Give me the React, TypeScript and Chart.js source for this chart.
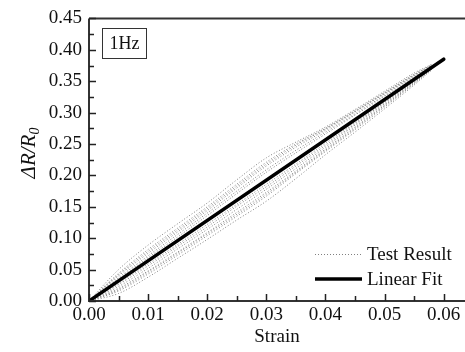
import React, { useEffect, useRef } from "react";
import { Chart, registerables } from "chart.js";

Chart.register(...registerables);

// ---- data ----
const STRAIN = [0, 0.005, 0.01, 0.015, 0.02, 0.025, 0.03, 0.035, 0.04, 0.045, 0.05, 0.055, 0.058];

const TEST_U1 = [0, 0.05, 0.089, 0.123, 0.156, 0.193, 0.228, 0.253, 0.277, 0.305, 0.334, 0.363, 0.377];
const TEST_U2 = [0, 0.044, 0.082, 0.116, 0.15, 0.186, 0.221, 0.25, 0.275, 0.303, 0.332, 0.361, 0.376];
const TEST_U6 = [0, 0.042, 0.079, 0.113, 0.147, 0.183, 0.218, 0.248, 0.274, 0.302, 0.331, 0.36, 0.376];
const TEST_U3 = [0, 0.04, 0.076, 0.11, 0.144, 0.18, 0.215, 0.245, 0.272, 0.301, 0.33, 0.359, 0.375];
const TEST_U4 = [0, 0.037, 0.072, 0.106, 0.14, 0.175, 0.209, 0.24, 0.269, 0.298, 0.328, 0.358, 0.374];
const TEST_U5 = [0, 0.035, 0.069, 0.102, 0.136, 0.171, 0.205, 0.236, 0.266, 0.296, 0.326, 0.356, 0.373];
const TEST_L1 = [0, 0.012, 0.038, 0.068, 0.098, 0.129, 0.159, 0.195, 0.233, 0.269, 0.306, 0.344, 0.368];
const TEST_L2 = [0, 0.016, 0.043, 0.073, 0.104, 0.135, 0.167, 0.203, 0.238, 0.273, 0.309, 0.346, 0.369];
const TEST_L7 = [0, 0.018, 0.046, 0.076, 0.107, 0.138, 0.17, 0.205, 0.24, 0.275, 0.311, 0.347, 0.37];
const TEST_L3 = [0, 0.02, 0.048, 0.078, 0.109, 0.141, 0.173, 0.207, 0.242, 0.277, 0.312, 0.348, 0.37];
const TEST_L4 = [0, 0.023, 0.052, 0.083, 0.114, 0.146, 0.178, 0.211, 0.245, 0.28, 0.314, 0.349, 0.371];
const TEST_L5 = [0, 0.026, 0.056, 0.087, 0.118, 0.151, 0.182, 0.215, 0.248, 0.282, 0.316, 0.35, 0.371];
const TEST_L6 = [0, 0.028, 0.059, 0.09, 0.122, 0.154, 0.186, 0.218, 0.251, 0.284, 0.317, 0.351, 0.372];

const TEST_CURVES = [
  TEST_U1, TEST_U2, TEST_U6, TEST_U3, TEST_U4, TEST_U5,
  TEST_L1, TEST_L2, TEST_L7, TEST_L3, TEST_L4, TEST_L5, TEST_L6,
];

const FIT_X = [0, 0.06];
const FIT_Y = [0, 0.385];

const LEGEND_LABELS = ["Test Result", "Linear Fit"];
const FREQ_LABEL = "1Hz";
const X_TITLE = "Strain";

const FONT = "'Liberation Serif', 'Times New Roman', serif";

const isMajor = (v: number, step: number) => Math.abs(v / step - Math.round(v / step)) < 1e-6;

const decorPlugin = {
  id: "decor",
  afterDraw(chart: any) {
    const ctx = chart.ctx;
    const { left, right, top, bottom } = chart.chartArea;
    const xs = chart.scales.x;
    const ys = chart.scales.y;
    ctx.save();
    // frame
    ctx.strokeStyle = "#333";
    ctx.lineWidth = 2;
    ctx.beginPath();
    ctx.moveTo(left, top);
    ctx.lineTo(right, top);
    ctx.moveTo(left, top);
    ctx.lineTo(left, bottom);
    ctx.lineTo(right, bottom);
    ctx.stroke();
    // ticks (inward)
    ctx.lineWidth = 1.5;
    ctx.strokeStyle = "#222";
    ctx.beginPath();
    xs.ticks.forEach((t: any) => {
      const px = Math.round(xs.getPixelForValue(t.value)) + 0.5;
      const len = isMajor(t.value, 0.01) ? 7 : 5;
      ctx.moveTo(px, bottom);
      ctx.lineTo(px, bottom - len);
    });
    ys.ticks.forEach((t: any) => {
      const py = Math.round(ys.getPixelForValue(t.value)) + 0.5;
      const len = isMajor(t.value, 0.05) ? 7 : 5;
      ctx.moveTo(left, py);
      ctx.lineTo(left + len, py);
    });
    ctx.stroke();

    // y title
    ctx.fillStyle = "#111";
    ctx.save();
    ctx.translate(29, 153);
    ctx.rotate(-Math.PI / 2);
    ctx.font = `italic 21px ${FONT}`;
    const main = "\u0394R/R";
    const w1 = ctx.measureText(main).width;
    ctx.font = `italic 14px ${FONT}`;
    const w2 = ctx.measureText("0").width;
    const sx = -(w1 + w2) / 2;
    ctx.textBaseline = "alphabetic";
    ctx.font = `italic 21px ${FONT}`;
    ctx.fillText(main, sx, 6);
    ctx.font = `italic 14px ${FONT}`;
    ctx.fillText("0", sx + w1, 10);
    ctx.restore();

    // 1Hz box
    ctx.strokeStyle = "#333";
    ctx.lineWidth = 1;
    ctx.strokeRect(102.5, 28.5, 44, 30);
    ctx.font = `18px ${FONT}`;
    ctx.textAlign = "center";
    ctx.textBaseline = "middle";
    ctx.fillText(FREQ_LABEL, 124.5, 44);

    // legend
    ctx.textAlign = "left";
    ctx.font = `19px ${FONT}`;
    ctx.strokeStyle = "#808080";
    ctx.lineWidth = 1;
    ctx.setLineDash([1, 2]);
    ctx.beginPath();
    ctx.moveTo(315, 254.5);
    ctx.lineTo(362, 254.5);
    ctx.stroke();
    ctx.setLineDash([]);
    ctx.strokeStyle = "#000";
    ctx.lineWidth = 3.5;
    ctx.beginPath();
    ctx.moveTo(315, 279);
    ctx.lineTo(362, 279);
    ctx.stroke();
    ctx.fillText(LEGEND_LABELS[0], 367, 255);
    ctx.fillText(LEGEND_LABELS[1], 367, 280);
    ctx.restore();
  },
};

export default function App() {
  const ref = useRef<HTMLCanvasElement>(null);
  useEffect(() => {
    document.body.style.margin = "0";
    const datasets: any[] = [
      {
        label: LEGEND_LABELS[1],
        data: FIT_X.map((x, i) => ({ x, y: FIT_Y[i] })),
        borderColor: "#000",
        borderWidth: 3.5,
        pointRadius: 0,
        borderCapStyle: "round",
      },
      ...TEST_CURVES.map((arr, k) => ({
        label: LEGEND_LABELS[0] + k,
        data: STRAIN.map((x, i) => ({ x, y: arr[i] })),
        borderColor: "#808080",
        borderWidth: 1,
        borderDash: [1, 2],
        pointRadius: 0,
        cubicInterpolationMode: "monotone",
      })),
    ];
    const chart = new Chart(ref.current!, {
      type: "line",
      data: { datasets },
      options: {
        animation: false,
        responsive: false,
        layout: { padding: { top: 17, right: 0, left: 0, bottom: 0 } },
        plugins: { legend: { display: false }, tooltip: { enabled: false } },
        scales: {
          x: {
            type: "linear",
            min: 0,
            max: 0.0636,
            afterFit: (s: any) => {
              s.height = 51;
            },
            grid: { display: false, drawTicks: false },
            border: { display: false },
            ticks: {
              stepSize: 0.005,
              includeBounds: false,
              autoSkip: false,
              maxRotation: 0,
              padding: 3,
              color: "#111",
              font: { family: FONT, size: 19 },
              callback: (v: any) => (isMajor(Number(v), 0.01) ? Number(v).toFixed(2) : ""),
            },
            title: {
              display: true,
              text: X_TITLE,
              color: "#111",
              font: { family: FONT, size: 19 },
              padding: { top: 0, bottom: 4 },
            },
          },
          y: {
            type: "linear",
            min: 0,
            max: 0.45,
            afterFit: (s: any) => {
              s.width = 89;
            },
            grid: { display: false, drawTicks: false },
            border: { display: false },
            ticks: {
              stepSize: 0.025,
              autoSkip: false,
              padding: 7,
              color: "#111",
              font: { family: FONT, size: 19 },
              callback: (v: any) => (isMajor(Number(v), 0.05) ? Number(v).toFixed(2) : ""),
            },
          },
        },
      },
      plugins: [decorPlugin],
    });
    return () => chart.destroy();
  }, []);
  return (
    <div style={{ width: 465, height: 352, background: "#fff" }}>
      <canvas ref={ref} width={465} height={352} style={{ display: "block" }} />
    </div>
  );
}
